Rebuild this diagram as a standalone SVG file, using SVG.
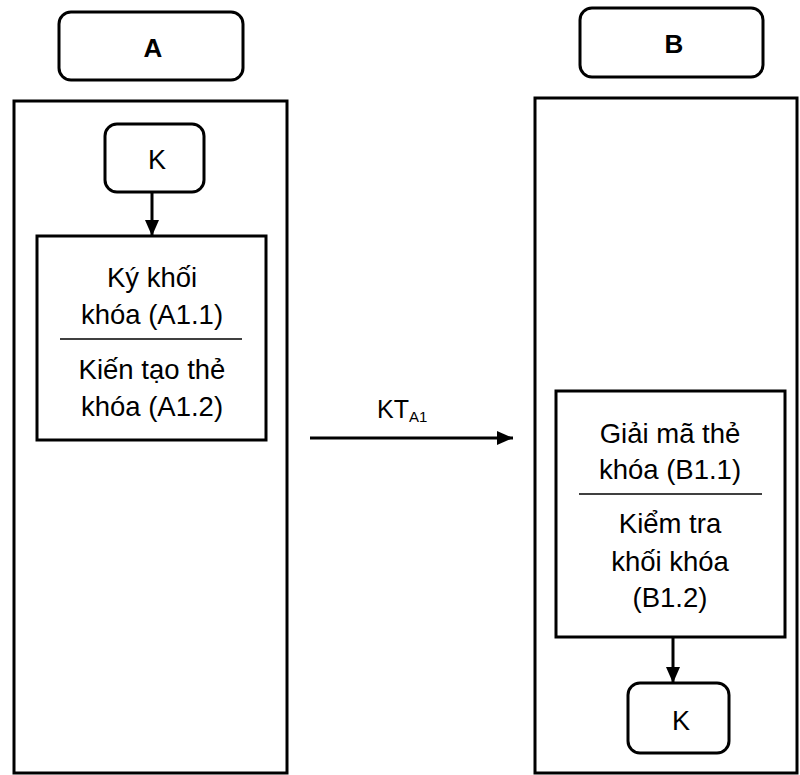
<svg xmlns="http://www.w3.org/2000/svg" width="800" height="775" viewBox="0 0 800 775">
  <style>
    .frame { fill: #fff; stroke: #000; stroke-width: 3; }
    .rule { stroke: #000; stroke-width: 1.5; }
    .edge { stroke: #000; stroke-width: 3; fill: none; }
    text { font-family: "Liberation Sans", Arial, sans-serif; fill: #000; text-anchor: middle; }
    .title { font-size: 26px; font-weight: bold; }
    .key { font-size: 27px; }
    .step { font-size: 27.5px; }
    .msg { font-size: 25px; text-anchor: start; }
  </style>
  <defs>
    <marker id="arrow" markerWidth="16" markerHeight="16" refX="16" refY="7" orient="auto" markerUnits="userSpaceOnUse">
      <path d="M0,0 L16,7 L0,14 Z" fill="#000"/>
    </marker>
  </defs>
  <rect width="800" height="775" fill="#fff"/>

  <!-- party A -->
  <g id="partyA">
    <rect class="frame" x="14" y="101" width="273" height="672"/>
    <rect class="frame" x="59" y="12" width="184" height="68" rx="12"/>
    <text class="title" x="153" y="57">A</text>
  </g>
  <g id="keyA">
    <rect class="frame" x="105" y="124" width="99" height="68" rx="12"/>
    <text class="key" x="157" y="169">K</text>
  </g>
  <g id="stepA1">
    <rect class="frame" x="37" y="236" width="229" height="204"/>
    <text class="step" x="152" y="287">Ký khối</text>
    <text class="step" x="152" y="324">khóa (A1.1)</text>
    <line class="rule" x1="60" y1="339" x2="242" y2="339"/>
    <text class="step" x="152" y="379">Kiến tạo thẻ</text>
    <text class="step" x="152" y="416">khóa (A1.2)</text>
  </g>

  <!-- party B -->
  <g id="partyB">
    <rect class="frame" x="535" y="98" width="262" height="675"/>
    <rect class="frame" x="580" y="8" width="183" height="69" rx="12"/>
    <text class="title" x="674" y="53">B</text>
  </g>
  <g id="stepB1">
    <rect class="frame" x="556" y="391" width="229" height="246"/>
    <text class="step" x="670" y="443">Giải mã thẻ</text>
    <text class="step" x="670" y="479">khóa (B1.1)</text>
    <line class="rule" x1="579" y1="494" x2="762" y2="494"/>
    <text class="step" x="670" y="533">Kiểm tra</text>
    <text class="step" x="670" y="571">khối khóa</text>
    <text class="step" x="670" y="607">(B1.2)</text>
  </g>
  <g id="keyB">
    <rect class="frame" x="628" y="683" width="101" height="70" rx="12"/>
    <text class="key" x="681" y="730">K</text>
  </g>

  <!-- connectors -->
  <g id="connectors">
    <line class="edge" x1="152" y1="192" x2="152" y2="236" marker-end="url(#arrow)"/>
    <line class="edge" x1="673" y1="637" x2="673" y2="683" marker-end="url(#arrow)"/>
    <line class="edge" x1="310" y1="438" x2="513" y2="438" marker-end="url(#arrow)"/>
    <text class="msg" x="377" y="418">KT<tspan font-size="15" dy="4">A1</tspan></text>
  </g>
</svg>
